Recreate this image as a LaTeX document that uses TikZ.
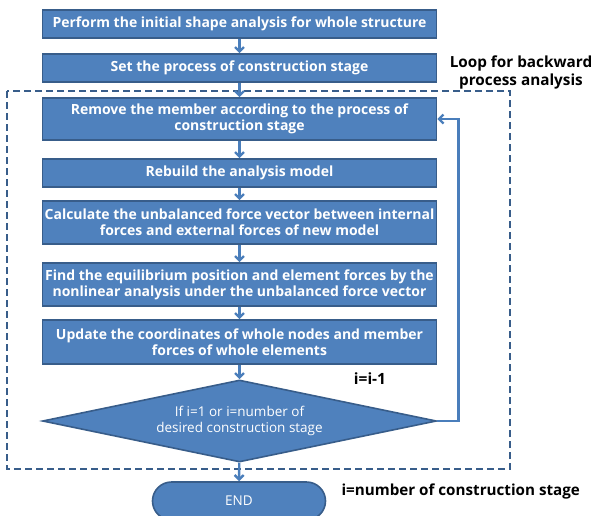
\documentclass[tikz,border=0pt]{standalone}
\usepackage{fontspec}
\setmainfont{Open Sans}
\usetikzlibrary{arrows.meta,shapes.geometric}
\definecolor{boxfill}{HTML}{4F81BD}
\definecolor{boxline}{HTML}{385D8A}
\definecolor{flowline}{HTML}{4A7EBB}
\begin{document}
\begin{tikzpicture}[
  x=1pt, y=-1pt,
  every node/.style={font=\fontsize{14}{16}\selectfont\bfseries},
  box/.style={
    draw=boxline,
    fill=boxfill,
    line width=1.6pt,
    text=white,
    align=center,
    inner sep=0pt,
    minimum width=394pt
  },
  decision/.style={
    box,
    diamond,
    aspect=4.8,
    minimum height=82pt,
    font=\fontsize{13.5}{16.5}\selectfont
  },
  terminal/.style={
    box,
    rounded corners=19pt,
    minimum width=173pt,
    minimum height=38pt,
    font=\fontsize{13.5}{16}\selectfont
  },
  arrow/.style={-{Straight Barb[length=4.5pt,width=9pt]}, draw=flowline, line width=2.4pt},
  note/.style={text=black, align=center}
]
\useasboundingbox (0,0) rectangle (597,515);
\clip (0,0) rectangle (597,515);
\node[box, minimum height=28pt] (initial) at (239.5,24) {Perform the initial shape analysis for whole structure};
\node[box, minimum height=28pt] (process) at (239.5,68) {Set the process of construction stage};
\node[box, minimum height=42pt] (remove) at (239.5,119) {Remove the member according to the process of\\construction stage};
\node[box, minimum height=28pt] (rebuild) at (239.5,173) {Rebuild the analysis model};
\node[box, minimum height=43pt] (unbal) at (239.5,222.5) {Calculate the unbalanced force vector between internal\\forces and external forces of new model};
\node[box, minimum height=43pt] (equil) at (239.5,284.5) {Find the equilibrium position and element forces by the\\nonlinear analysis under the unbalanced force vector};
\node[box, minimum height=44pt] (update) at (239.5,342) {Update the coordinates of whole nodes and member\\forces of whole elements};
\node[decision] (cond) at (239.5,421) {If i=1 or i=number of\\desired construction stage};
\node[terminal] (end) at (239,501) {END};
% loop frame
\draw[boxline, line width=2.2pt, dash pattern=on 7pt off 4pt] (7,91) rectangle (510,469);
\node[note, font=\fontsize{15.3}{18}\selectfont\bfseries] (looplabel) at (521,72) {Loop for backward\\process analysis};
\node[note, font=\fontsize{15.5}{18}\selectfont\bfseries] (dec) at (370,379) {i=i-1};
\node[note, font=\fontsize{15.2}{18}\selectfont\bfseries, anchor=west] (last) at (338,492) {i=number of construction stage};
% connectors
\draw[arrow] (initial) -- (process);
\draw[arrow] (process) -- (remove);
\draw[arrow] (remove) -- (rebuild);
\draw[arrow] (rebuild) -- (unbal);
\draw[arrow] (unbal) -- (equil);
\draw[arrow] (equil) -- (update);
\draw[arrow] (update) -- (cond);
\draw[arrow] (cond) -- (end);
\draw[arrow] (cond.east) -- ++(21,0) |- (remove.east);
\end{tikzpicture}
\end{document}
